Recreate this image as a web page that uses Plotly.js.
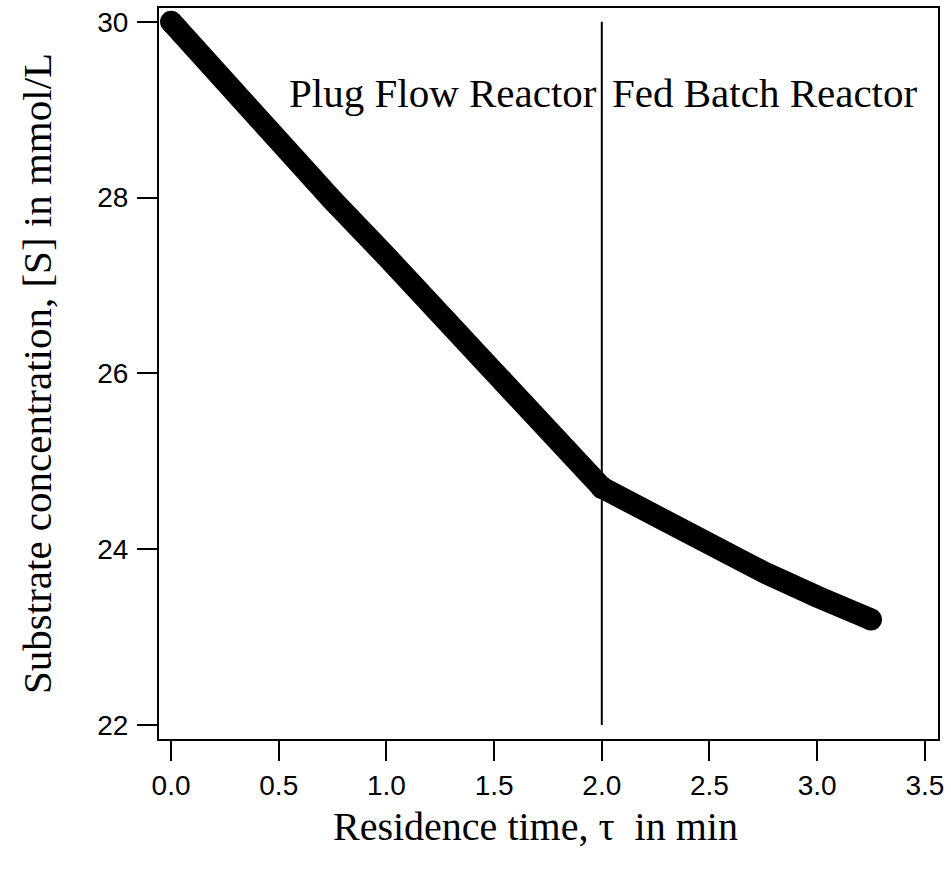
<!DOCTYPE html>
<html>
<head>
<meta charset="utf-8">
<script src="https://cdn.plot.ly/plotly-3.0.1.min.js"></script>
<style>html,body{margin:0;padding:0;background:#fff}#chart{width:951px;height:874px}</style>
</head>
<body>
<div id="chart"></div>
<script>
// Plug flow reactor section
var pfrTime = [0, 0.25, 0.5, 0.75, 1.0, 1.25, 1.5, 1.75, 2.0];
var pfrConc = [30.00, 29.30, 28.63, 27.97, 27.33, 26.68, 26.02, 25.36, 24.70];
// Fed batch reactor section
var fbrTime = [2.0, 2.25, 2.5, 2.75, 3.0, 3.25];
var fbrConc = [24.70, 24.36, 24.04, 23.74, 23.46, 23.20];
// Divider between the reactors
var dividerTime = [2.0, 2.0];
var dividerConc = [22, 30];
// Tick labels
var xTickVals = [0, 0.5, 1.0, 1.5, 2.0, 2.5, 3.0, 3.5];
var xTickText = ["0.0", "0.5", "1.0", "1.5", "2.0", "2.5", "3.0", "3.5"];
var yTickVals = [22, 24, 26, 28, 30];
var yTickText = ["22", "24", "26", "28", "30"];
var regionLabels = ["Plug Flow Reactor", "Fed Batch Reactor"];

function endSizes(n, s) {
  var a = [];
  for (var i = 0; i < n; i++) a.push(i === 0 || i === n - 1 ? s : 0);
  return a;
}

function curve(xs, ys) {
  return {
    x: xs, y: ys,
    mode: 'lines+markers',
    line: {color: '#000', width: 22},
    marker: {color: '#000', size: endSizes(xs.length, 22), opacity: 1, line: {width: 0}},
    showlegend: false,
    hoverinfo: 'skip'
  };
}

var data = [
  {x: dividerTime, y: dividerConc, mode: 'lines', line: {color: '#000', width: 2}, showlegend: false, hoverinfo: 'skip'},
  curve(pfrTime, pfrConc),
  curve(fbrTime, fbrConc)
];

var serif = 'Liberation Serif, Times New Roman, serif';
var sans = 'Liberation Sans, Arial, sans-serif';

var axisCommon = {
  showline: true, mirror: true, linecolor: '#000', linewidth: 2,
  ticks: 'outside', ticklen: 20, tickwidth: 2, tickcolor: '#000',
  showgrid: false, zeroline: false,
  tickfont: {family: sans, size: 28, color: '#000'},
  tickmode: 'array'
};

var pw = 951 - 159 - 13, ph = 874 - 8 - 135;

var layout = {
  width: 951, height: 874,
  margin: {l: 159, r: 13, t: 8, b: 135},
  paper_bgcolor: '#fff', plot_bgcolor: '#fff',
  xaxis: Object.assign({}, axisCommon, {range: [-0.056, 3.561], tickvals: xTickVals, ticktext: xTickText, ticklabelstandoff: 0}),
  yaxis: Object.assign({}, axisCommon, {range: [21.84, 30.156], tickvals: yTickVals, ticktext: yTickText, ticklabelstandoff: 3}),
  annotations: [
    {text: regionLabels[0], x: 1.985, y: 29.19, xref: 'x', yref: 'y', xanchor: 'right', yanchor: 'middle', showarrow: false, font: {family: serif, size: 41, color: '#000'}},
    {text: regionLabels[1], x: 2.04, y: 29.19, xref: 'x', yref: 'y', xanchor: 'left', yanchor: 'middle', showarrow: false, font: {family: serif, size: 41, color: '#000'}},
    {text: 'Residence time, \u03c4\u00a0 in min', x: (535 - 159) / pw, y: (874 - 135 - 826) / ph, xref: 'paper', yref: 'paper', xanchor: 'center', yanchor: 'middle', showarrow: false, font: {family: serif, size: 40, color: '#000'}},
    {text: 'Substrate concentration, [S] in mmol/L', x: (37 - 159) / pw, y: (874 - 135 - 374) / ph, xref: 'paper', yref: 'paper', xanchor: 'center', yanchor: 'middle', showarrow: false, textangle: -90, font: {family: serif, size: 41, color: '#000'}}
  ]
};

Plotly.newPlot('chart', data, layout, {displayModeBar: false, staticPlot: true});
</script>
</body>
</html>
